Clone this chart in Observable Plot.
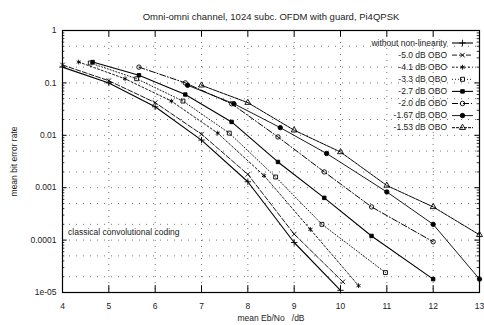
<!DOCTYPE html>
<html><head><meta charset="utf-8">
<script src="https://cdn.jsdelivr.net/npm/d3@7"></script>
<script src="https://cdn.jsdelivr.net/npm/@observablehq/plot@0.6"></script>
<style>
body{margin:0;background:#fff;}
svg{font-family:"Liberation Sans",Arial,sans-serif;}
</style></head><body><div id="chart"></div>
<script>
const seriesNames = ["without non-linearity","-5.0 dB OBO","-4.1 dB OBO","-3.3 dB OBO","-2.7 dB OBO","-2.0 dB OBO","-1.67 dB OBO","-1.53 dB OBO"];
const xA = [4,5,6,7,8,9,10];
const yA = [0.2,0.1,0.035,0.0081,0.0013,9e-5,1.1e-5];
const xB = [4,5,6,7,8,9,10.05];
const yB = [0.22,0.11,0.042,0.0105,0.0018,1.3e-4,1.6e-5];
const xC = [4.35,5.35,6.35,7.35,8.35,9.35,10.39];
const yC = [0.25,0.12,0.045,0.011,0.0017,1.6e-4,1.35e-5];
const xD = [4.6,5.6,6.6,7.6,8.6,9.6,10.97];
const yD = [0.24,0.12,0.045,0.011,0.0016,2e-4,2.4e-5];
const xE = [4.65,5.65,6.65,7.65,8.65,9.65,10.67,12];
const yE = [0.25,0.14,0.06,0.018,0.0031,6.4e-4,1.2e-4,1.8e-5];
const xF = [5.65,6.65,7.65,8.65,9.65,10.67,12];
const yF = [0.2,0.1,0.04,0.0093,0.002,4.3e-4,9.3e-5];
const xG = [6.7,7.7,8.7,9.7,11,12,13];
const yG = [0.09,0.04,0.014,0.0045,8.3e-4,2e-4,1.8e-5];
const xH = [7,8,9,10,11,12,13];
const yH = [0.09,0.042,0.0125,0.0048,0.0011,4.3e-4,1.26e-4];
const xTicks = [4,5,6,7,8,9,10,11,12,13];
const yTicks = [1,0.1,0.01,0.001,0.0001,0.00001];
const yTickLabels = ["1","0.1","0.01","0.001","0.0001","1e-05"];
const titleText = "Omni-omni channel, 1024 subc. OFDM with guard, Pi4QPSK";
const xLabel = "mean Eb/No   /dB";
const yLabel = "mean bit error rate";
const noteText = "classical convolutional coding";
const noteX = [4.12], noteY = [1.4e-4];

const xs = [xA,xB,xC,xD,xE,xF,xG,xH];
const ys = [yA,yB,yC,yD,yE,yF,yG,yH];
const symbols = ["plus","times","asterisk","square","square2","circle","circle","triangle"];
const fills = ["none","none","none","none","black","none","black","none"];
const dashes = [null,"5,2","2,2","1,2",null,"6,2,1,2",null,"3,1"];
const widths = [1.1,0.9,0.9,0.9,1.1,1.0,0.9,1.0];

const data = [];
xs.forEach((xx,i)=>xx.forEach((x,j)=>data.push({s:i,x,y:ys[i][j]})));

const minorY = [];
for (let e=-5;e<0;e++) for (let m=2;m<=9;m++) minorY.push(m*Math.pow(10,e));
const gridY = [];
for (let e=-5;e<0;e++) for (const m of [1,2,5]) gridY.push(m*Math.pow(10,e));

const marks = [
  Plot.ruleX(xTicks.slice(1,-1), {stroke:"#777", strokeDasharray:"1,5", strokeWidth:1}),
  Plot.ruleY(gridY.filter(v=>v>1e-5), {stroke:"#777", strokeDasharray:"1,6", strokeWidth:1}),
  Plot.frame({stroke:"black", strokeWidth:1.2}),
  Plot.ruleY(yTicks, {x1:4, x2:4.1, stroke:"black"}),
  Plot.ruleY(yTicks, {x1:12.9, x2:13, stroke:"black"}),
  Plot.ruleY(minorY, {x1:4, x2:4.05, stroke:"black", strokeWidth:0.8}),
  Plot.ruleY(minorY, {x1:12.95, x2:13, stroke:"black", strokeWidth:0.8}),
  Plot.ruleX(xTicks, {y1:1e-5, y2:1.35e-5, stroke:"black"}),
  Plot.ruleX(xTicks, {y1:0.75, y2:1, stroke:"black"}),
];
xs.forEach((xx,i)=>{
  const d = data.filter(p=>p.s===i);
  marks.push(Plot.line(d,{x:"x",y:"y",stroke:"black",strokeWidth:widths[i],strokeDasharray:dashes[i]}));
  marks.push(Plot.dot(d,{x:"x",y:"y",symbol:()=>symbols[i],r:2.2,stroke:"black",strokeWidth:0.9,fill:fills[i]}));
});
marks.push(Plot.text(noteX.map((x,i)=>({x,y:noteY[i]})),{x:"x",y:"y",text:()=>noteText,textAnchor:"start",fontSize:8.5,fill:"#222"}));
marks.push(Plot.text([titleText],{frameAnchor:"top",dy:-17,fontSize:9.5,fill:"#222"}));

const plot = Plot.plot({
  width:484, height:325,
  marginLeft:62, marginRight:5, marginTop:30, marginBottom:33,
  style:{fontFamily:"'Liberation Sans',Arial,sans-serif", fontSize:"8.5px", color:"#222", background:"white"},
  x:{type:"linear", domain:[4,13], ticks:xTicks, tickSize:0, tickPadding:10, label:xLabel, labelAnchor:"center", labelArrow:"none", labelOffset:28},
  y:{type:"log", domain:[1e-5,1], ticks:yTicks, tickSize:0, tickPadding:6, tickFormat:(d)=>yTickLabels[yTicks.indexOf(d)] ?? "", label:yLabel, labelAnchor:"center", labelArrow:"none", labelOffset:52},
  marks
});
document.getElementById("chart").appendChild(plot);

// legend (top-right inside the frame)
const svg = d3.select(plot);
const lg = svg.append("g").attr("font-size","8.5px").attr("fill","#222");
seriesNames.forEach((name,i)=>{
  const yy = 43 + i*12.1;
  lg.append("text").attr("x",447).attr("y",yy).attr("dy","0.32em").attr("text-anchor","end").text(name);
  lg.append("line").attr("x1",452).attr("x2",473).attr("y1",yy).attr("y2",yy)
    .attr("stroke","black").attr("stroke-width",widths[i]).attr("stroke-dasharray",dashes[i]);
  const sym = {plus:d3.symbolPlus,times:d3.symbolTimes,asterisk:d3.symbolAsterisk,square:d3.symbolSquare,square2:d3.symbolSquare2,circle:d3.symbolCircle,triangle:d3.symbolTriangle}[symbols[i]];
  lg.append("path").attr("d",d3.symbol(sym,16)).attr("transform",`translate(462.5,${yy})`)
    .attr("stroke","black").attr("stroke-width",0.9).attr("fill",fills[i]);
});
</script></body></html>
